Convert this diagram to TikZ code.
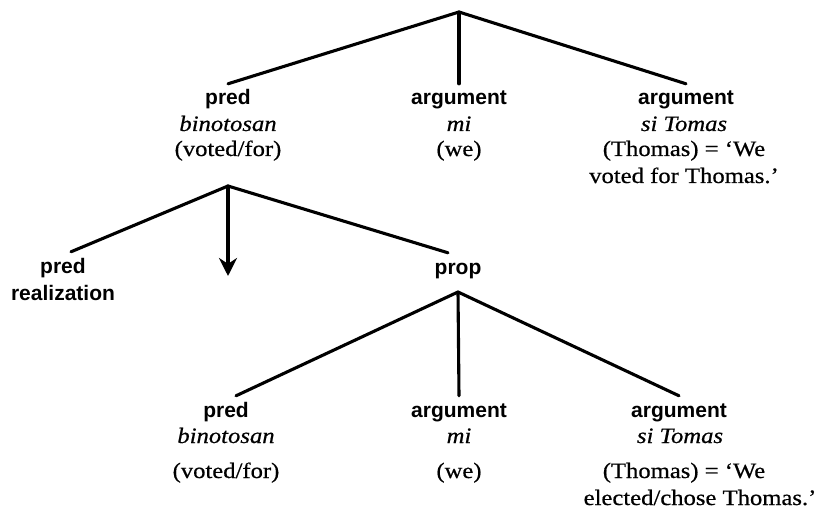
\documentclass[tikz,border=0pt]{standalone}
\usepackage{fontspec}
\setmainfont{Liberation Serif}[FakeStretch=1.12,FakeBold=0.6]
\newfontfamily\labsans{Liberation Sans}
\usetikzlibrary{arrows.meta}
\begin{document}
\begin{tikzpicture}[x=1pt,y=1pt,
  branch/.style={line width=3.1pt, line cap=round},
  cat/.style={font=\labsans\bfseries\fontsize{21}{25}\selectfont, inner xsep=0pt, inner ysep=6pt, text height=15pt, text depth=4pt, anchor=base},
  gloss/.style={font=\fontsize{22}{26}\selectfont, inner sep=0pt, anchor=base},
  word/.style={font=\itshape\fontsize{22}{26}\selectfont, inner sep=0pt, anchor=base},
]
\useasboundingbox (0,-518) rectangle (826,0);
% branching points
\coordinate (root) at (459,-12);
\coordinate (n1) at (228,-186);
\coordinate (n2) at (458,-292);
\coordinate (arrowend) at (228,-276);
% top row
\node[cat] (predA) at (228,-105) {pred};
\node[word] (predAw) at (228,-131) {binotosan};
\node[gloss] (predAg) at (228,-156) {(voted/for)};
\node[cat] (argA) at (459,-105) {argument};
\node[word] (argAw) at (459,-131) {mi};
\node[gloss] (argAg) at (459,-156) {(we)};
\node[cat] (argB) at (686,-105) {argument};
\node[word] (argBw) at (684,-131) {si Tomas};
\node[gloss] (argBg) at (684,-156) {(Thomas) = ‘We};
\node[gloss] (argBh) at (684,-183) {voted for Thomas.’};
% middle row
\node[cat] (predR) at (63,-273) {pred};
\node[cat] (predRb) at (63,-300) {realization};
\node[cat] (prop) at (458,-274) {prop};
% bottom row
\node[cat] (predC) at (226,-417) {pred};
\node[word] (predCw) at (226,-443) {binotosan};
\node[gloss] (predCg) at (226,-478) {(voted/for)};
\node[cat] (argC) at (459,-417) {argument};
\node[word] (argCw) at (459,-443) {mi};
\node[gloss] (argCg) at (459,-478) {(we)};
\node[cat] (argD) at (679,-417) {argument};
\node[word] (argDw) at (680,-443) {si Tomas};
\node[gloss] (argDg) at (684,-478) {(Thomas) = ‘We};
\node[gloss] (argDh) at (700,-505) {elected/chose Thomas.’};
% connectors
\draw[branch] (root) -- (predA.north);
\draw[branch] (root) -- (argA.north);
\draw[branch] (root) -- (argB.north);
\draw[branch] (n1) -- ([xshift=8pt]predR.north);
\draw[branch,-{Stealth[length=18pt,width=18pt]}] (n1) -- (arrowend);
\draw[branch] (n1) -- ([xshift=-10pt]prop.north);
\draw[branch] (n2) -- ([xshift=10pt]predC.north);
\draw[branch] (n2) -- (argC.north);
\draw[branch] (n2) -- (argD.north);
\end{tikzpicture}
\end{document}
